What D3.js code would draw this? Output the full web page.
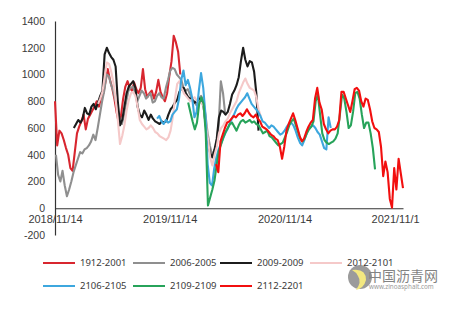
<!DOCTYPE html>
<html>
<head>
<meta charset="utf-8">
<script src="https://cdn.jsdelivr.net/npm/d3@7"></script>
<style>
  html, body { margin: 0; padding: 0; background: #fff; }
  svg { display: block; font-family: "Noto Sans", "Liberation Sans", sans-serif; }
</style>
</head>
<body>
<div id="chart"></div>
<script>
// series labels, colours and the date of each series' first weekly point
var seriesNames  = ["1912-2001", "2006-2005", "2009-2009", "2012-2101", "2106-2105", "2109-2109", "2112-2201"];
var seriesColors = ["#d8262f", "#8f8f8f", "#1c1c1c", "#f5c9c9", "#3da7de", "#27a35a", "#f20f0f"];
var seriesStarts = ["2018/11/14", "2018/11/17", "2019/01/13", "2019/03/31", "2019/10/05", "2020/01/12", "2020/04/10"];

// weekly values
var s1912 = [800, 470, 580, 560, 510, 450, 400, 300, 280, 420, 560, 610, 650, 700, 590, 670, 700, 730, 760, 800,
             760, 830, 860, 950, 1040, 960, 900, 820, 720, 640, 690, 820, 910, 950, 900, 880, 940, 890, 860, 900,
             1040, 890, 830, 860, 880, 820, 870, 960, 870, 830, 800, 860, 990, 1100, 1290, 1240, 1170, 1000];
var s2006 = [400, 250, 200, 280, 170, 90, 140, 200, 270, 320, 370, 420, 410, 440, 450, 470, 500, 550, 510, 600,
             700, 800, 880, 1000, 990, 930, 880, 810, 750, 660, 630, 700, 800, 880, 900, 910, 860, 800, 840, 880,
             860, 820, 840, 860, 790, 800, 840, 860, 830, 820, 900, 960, 1030, 1050, 1040, 1000, 980, 960, 900, 880,
             890, 850, 820, 790, 770, 820, 840, 810, 700, 560, 470, 400, 430, 480, 620, 950, 860, 700];
var s2009 = [600, 630, 660, 640, 670, 750, 710, 700, 760, 780, 740, 790, 840, 880, 1150, 1200, 1160, 1130, 1110, 1060,
             800, 620, 660, 760, 860, 910, 930, 950, 900, 760, 700, 680, 730, 700, 660, 700, 670, 650, 640, 630,
             650, 640, 650, 700, 740, 760, 790, 810, 870, 900, 900, 860, 830, 820, 810, 790, 800, 820, 810, 760,
             620, 500, 410, 380, 440, 520, 680, 730, 720, 700, 720, 780, 850, 880, 920, 980, 1100, 1200, 1110, 1060,
             1100, 1090, 1020, 860, 580];
var s2012 = [780, 820, 870, 980, 1090, 1080, 1020, 940, 820, 660, 480, 540, 620, 730, 810, 860, 870, 840, 760, 660,
             630, 610, 590, 600, 620, 600, 570, 560, 540, 530, 520, 510, 530, 580, 680, 820, 930, 950, 900, 860,
             840, 820, 800, 820, 830, 800, 790, 790, 760, 640, 520, 380, 320, 400, 460, 560, 600, 620, 650, 670,
             710, 740, 770, 800, 860, 900, 940, 970, 930, 900, 890, 880, 830, 740, 690];
var s2106 = [670, 690, 650, 630, 660, 640, 650, 700, 720, 740, 820, 960, 1030, 920, 960, 900, 820, 680, 720, 880,
             1010, 900, 700, 330, 190, 170, 300, 380, 440, 480, 520, 560, 590, 630, 670, 700, 740, 770, 790, 810,
             830, 860, 820, 780, 760, 740, 720, 690, 650, 640, 620, 600, 620, 610, 590, 570, 550, 560, 580, 610,
             630, 640, 620, 580, 530, 490, 470, 510, 560, 600, 610, 620, 600, 570, 550, 500, 450, 440, 680, 600];
var s2109 = [790, 720, 650, 590, 640, 780, 830, 780, 560, 20, 80, 140, 210, 330, 430, 480, 530, 570, 600, 630,
             640, 610, 580, 620, 650, 660, 640, 650, 660, 640, 650, 630, 620, 590, 560, 570, 580, 540, 530, 510,
             490, 470, 480, 490, 530, 570, 620, 650, 670, 620, 570, 520, 500, 520, 560, 590, 610, 650, 800, 850,
             700, 560, 510, 490, 480, 490, 500, 520, 560, 700, 850, 820, 720, 600, 620, 720, 860, 870, 820, 700,
             600, 640, 640, 560, 450, 290];
var s2112 = [330, 270, 500, 550, 600, 640, 650, 670, 690, 680, 700, 710, 690, 710, 740, 710, 690, 680, 700, 670,
             650, 610, 600, 590, 570, 550, 540, 520, 510, 460, 370, 460, 580, 630, 670, 710, 660, 600, 540, 500,
             520, 570, 610, 640, 660, 820, 900, 790, 740, 630, 590, 560, 580, 590, 590, 610, 660, 870, 870, 820,
             770, 720, 800, 890, 900, 880, 800, 760, 820, 810, 740, 650, 600, 590, 570, 460, 240, 350, 270, 70,
             5, 300, 140, 370, 260, 150];

var yTicks = [-200, 0, 200, 400, 600, 800, 1000, 1200, 1400];
var xTickLabels = ["2018/11/14", "2019/11/14", "2020/11/14", "2021/11/1"];

var width = 458, height = 309;
var parse = d3.timeParse("%Y/%m/%d");

var svg = d3.select("#chart").append("svg")
  .attr("width", width)
  .attr("height", height);

var x = d3.scaleTime()
  .domain([parse("2018/11/14"), parse("2021/11/26")])
  .range([55, 403]);

var y = d3.scaleLinear()
  .domain([-200, 1400])
  .range([235, 21]);

// build the series from their weekly values
var allValues = [s1912, s2006, s2009, s2012, s2106, s2109, s2112];
var series = seriesNames.map(function (name, k) {
  var start = parse(seriesStarts[k]);
  return {
    name: name,
    color: seriesColors[k],
    points: allValues[k].map(function (v, i) {
      return { date: d3.timeDay.offset(start, 7 * i), value: v };
    })
  };
});

// axes
var yAxis = svg.append("g")
  .attr("transform", "translate(55,0)")
  .call(d3.axisLeft(y)
    .tickValues(yTicks)
    .tickFormat(function (d) { return String(d); })
    .tickSize(0).tickSizeOuter(0).tickPadding(10));

var xAxis = svg.append("g")
  .attr("transform", "translate(0," + y(0) + ")")
  .call(d3.axisBottom(x)
    .tickValues(xTickLabels.map(parse))
    .tickFormat(function (d, i) { return xTickLabels[i]; })
    .tickSize(0).tickSizeOuter(0).tickPadding(7));

svg.selectAll(".domain").attr("stroke", "#333").attr("stroke-width", 1.2);
yAxis.selectAll("text").attr("fill", "#3a3a3a").style("font-size", "10.5px");
xAxis.selectAll("text").attr("fill", "#3a3a3a").style("font-size", "11px");

// lines
var line = d3.line()
  .x(function (d) { return x(d.date); })
  .y(function (d) { return y(d.value); });

svg.append("g")
  .selectAll("path")
  .data(series)
  .enter()
  .append("path")
  .attr("d", function (d) { return line(d.points); })
  .attr("fill", "none")
  .attr("stroke", function (d) { return d.color; })
  .attr("stroke-width", 2.1)
  .attr("stroke-linejoin", "round");

// legend, two rows of four
var colX = [43, 133, 220, 310];
var rowY = [263, 286];
var legend = svg.append("g")
  .selectAll("g")
  .data(series)
  .enter()
  .append("g")
  .attr("transform", function (d, i) {
    return "translate(" + colX[i % 4] + "," + rowY[Math.floor(i / 4)] + ")";
  });

legend.append("line")
  .attr("x1", 0).attr("x2", 32)
  .attr("stroke", function (d) { return d.color; })
  .attr("stroke-width", 2);

legend.append("text")
  .attr("x", 37)
  .attr("dy", "0.35em")
  .attr("fill", "#3a3a3a")
  .style("font-size", "9.5px")
  .text(function (d) { return d.name; });

// watermark (sits over the last legend label, as in the original)
var wm = svg.append("g").attr("opacity", 0.85);
wm.append("circle").attr("cx", 360).attr("cy", 277).attr("r", 12).attr("fill", "#8a8a8a");
wm.append("path")
  .attr("d", "M352,270 Q366,268 366,280 Q364,288 356,290 Q362,282 358,276 Q356,272 352,270 Z")
  .attr("fill", "#f2e46a");
wm.append("text")
  .attr("x", 368).attr("y", 281)
  .attr("fill", "#6e6e6e")
  .style("font-family", "'Noto Sans CJK SC', sans-serif")
  .style("font-size", "14px")
  .text("中国沥青网");
wm.append("text")
  .attr("x", 369).attr("y", 289)
  .attr("fill", "#8a8a8a")
  .style("font-size", "6.3px")
  .text("www.zinoasphalt.com");
</script>
</body>
</html>
